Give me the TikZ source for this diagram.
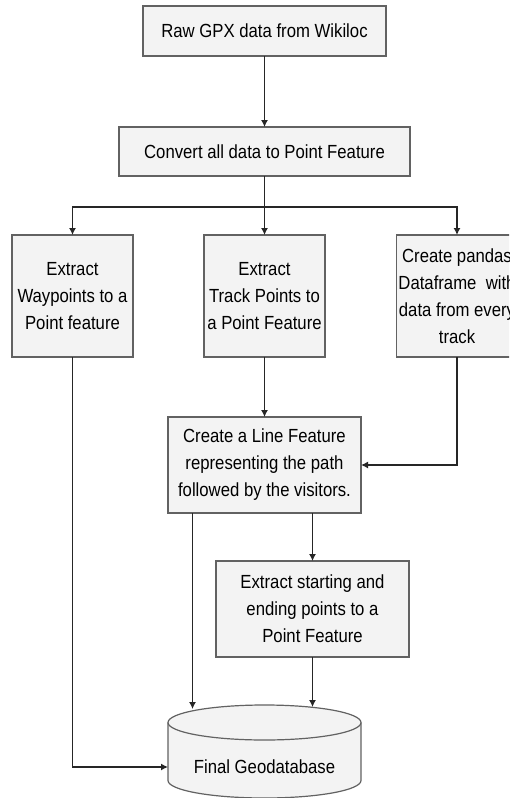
\documentclass[tikz,border=0pt]{standalone}
\usepackage{fontspec}
\setmainfont[FakeStretch=0.88]{Liberation Sans}
\usepackage{xcolor}
\usetikzlibrary{arrows.meta}
\definecolor{boxfill}{HTML}{F3F3F3}
\definecolor{boxline}{HTML}{626262}
\tikzset{
    step-box/.style = {draw=boxline, fill=boxfill, line width=1.2pt, rectangle, align=center, inner sep=0pt, outer sep=0pt, font=\fontsize{19}{27}\selectfont},
    db-body/.style = {draw=boxline, fill=boxfill, line width=1.2pt},
    flow-arrow/.style = {draw=black!85, line width=1.3pt, -{Latex[length=7pt,width=7pt]}},
}

\begin{document}
\begin{tikzpicture}[x=1pt,y=-1pt]
\useasboundingbox (0,0) rectangle (509,798);
\clip (0,0) rectangle (509,798);
\fill[white] (0,0) rectangle (509,798);

% boxes
\node [step-box, minimum width=243pt, minimum height=50pt] (raw) at (264.5,31) {Raw GPX data from Wikiloc};
\node [step-box, minimum width=291pt, minimum height=49pt] (convert) at (264.5,151.5) {Convert all data to Point Feature};
\node [step-box, minimum width=121pt, minimum height=122pt] (waypoints) at (72.5,296) {Extract\\Waypoints to a\\Point feature};
\node [step-box, minimum width=121pt, minimum height=122pt] (track) at (264.5,296) {Extract\\Track Points to\\a Point Feature};
\node [step-box, minimum width=121pt, minimum height=122pt] (pandas) at (457,296) {Create pandas\\Dataframe\ \ with\\data from every\\track};
\node [step-box, minimum width=193pt, minimum height=96pt] (line) at (264.5,465) {Create a Line Feature\\representing the path\\followed by the visitors.};
\node [step-box, minimum width=193pt, minimum height=96pt] (ends) at (312.5,609) {Extract starting and\\ending points to a\\Point Feature};

% database cylinder
\node [minimum width=193pt, minimum height=93pt, inner sep=0pt, outer sep=0pt] (db) at (264.5,751.5) {};
\draw [db-body] ([yshift=-17.5pt]db.north west) -- ([yshift=17.5pt]db.south west)
    arc [start angle=180, end angle=360, x radius=96.5pt, y radius=17.5pt]
    -- ([yshift=-17.5pt]db.north east);
\draw [db-body] ([yshift=-17.5pt]db.north) ellipse [x radius=96.5pt, y radius=17.5pt];
\node [font=\fontsize{19}{27}\selectfont, inner sep=0pt] (dbtext) at (264.5,767) {Final Geodatabase};

% connectors
\coordinate (split) at (264.5,207);
\draw [flow-arrow] (raw) -- (convert);
\draw [flow-arrow] (convert) -- (track);
\draw [flow-arrow] (split) -| (waypoints.north);
\draw [flow-arrow] (split) -| (pandas.north);
\draw [flow-arrow] (track) -- (line);
\draw [flow-arrow] (pandas.south) |- (line.east);
\draw [flow-arrow] ([xshift=-72pt]line.south) -- ([xshift=-72pt,yshift=-4pt]db.north);
\draw [flow-arrow] (line.south -| ends.north) -- (ends.north);
\draw [flow-arrow] (ends.south) -- ([yshift=-2pt]ends.south |- db.north);
\draw [flow-arrow] (waypoints.south) |- (db.west |- dbtext.center);
\end{tikzpicture}
\end{document}
